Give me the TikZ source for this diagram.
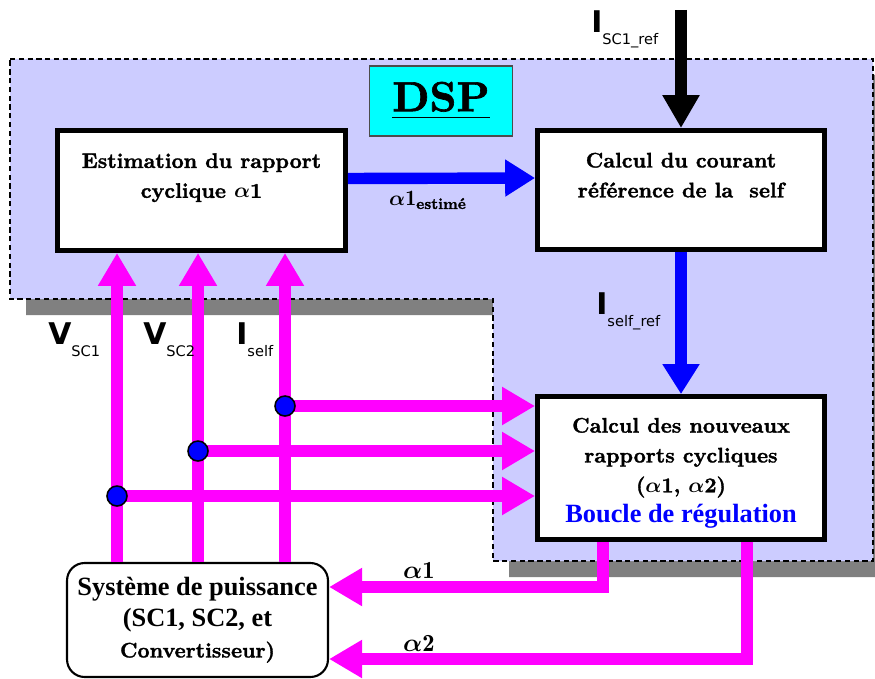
\documentclass[tikz,border=0pt]{standalone}
\usepackage{amsmath,amssymb,bm}
\usepackage{xcolor}
\usepackage{fontspec}
\usepackage{tikz}
\usetikzlibrary{arrows.meta}
\newfontfamily\timesfont{Liberation Serif}
\newfontfamily\labfont{DejaVu Sans}
\newfontfamily\boxfont{lmroman10-bold.otf}[FakeBold=1.5]
\definecolor{dsp-lav}{RGB}{204,204,255}
\definecolor{dsp-gray}{RGB}{128,128,128}
\definecolor{dsp-cyan}{RGB}{0,255,255}
\definecolor{sig-mag}{RGB}{255,0,255}
\definecolor{sig-blue}{RGB}{0,0,255}
\newcommand{\siglab}[2]{{\labfont\bfseries\fontsize{17}{17}\selectfont #1}\raisebox{-6.8pt}{\labfont\fontsize{8.3}{8.3}\selectfont #2}}

\begin{document}
\begin{tikzpicture}[x=0.02cm, y=-0.02cm,
  blk/.style={draw, line width=2.8pt, fill=white, align=center, font=\boxfont\fontsize{12}{17}\selectfont},
  magarrow/.style={sig-mag, line width=6.8pt, -{Triangle[width=20.5pt,length=18.8pt]}},
  bluarrow/.style={sig-blue, line width=6.5pt, -{Triangle[width=20pt,length=17pt]}},
  blkarrow/.style={black, line width=6.8pt, -{Triangle[width=20pt,length=18.8pt]}},
  dot/.style={circle, draw, fill=sig-blue, line width=0.9pt, minimum size=0.4cm, inner sep=0pt}]
  \useasboundingbox (0,0) rectangle (875,679);
  \clip (0,0) rectangle (875,679);

  % DSP area with its shadow
  \fill[dsp-gray] (26,75) -- (889,75) -- (889,577) -- (509,577) -- (509,315) -- (26,315) -- cycle;
  \draw[fill=dsp-lav, line width=0.9pt, dash pattern=on 3pt off 2pt]
    (10,59) -- (873,59) -- (873,561) -- (493,561) -- (493,299) -- (10,299) -- cycle;
  \node[fill=dsp-cyan, draw=gray!60!black, line width=0.8pt, minimum width=2.86cm, minimum height=1.4cm,
    font=\boxfont\fontsize{24}{24}\selectfont] (dsp) at (441,101) {\underline{DSP}};

  % blocks
  \node[blk, minimum width=5.76cm, minimum height=2.4cm] (est) at (201.5,190.5)
    {Estimation du rapport\\cyclique $\bm{\alpha}$1\\\mbox{}};
  \node[blk, minimum width=5.74cm, minimum height=2.38cm] (courant) at (681,190)
    {Calcul du courant\\référence de la~ self\\\mbox{}};
  \node[blk, minimum width=5.74cm, minimum height=2.86cm] (regul) at (681,468)
    {\rule{0pt}{14pt}Calcul des nouveaux\\rapports cycliques\\($\bm{\alpha}$1, $\bm{\alpha}$2)\\
     {\timesfont\bfseries\fontsize{15}{17}\selectfont\color{sig-blue}Boucle de régulation}};
  \node[draw, rounded corners=10pt, line width=1.2pt, fill=white, minimum width=5.22cm, minimum height=2.28cm,
    align=center, font=\timesfont\bfseries\fontsize{15}{17.6}\selectfont] (sys) at (197.5,620)
    {Système de puissance\\(SC1, SC2, et\\{\boxfont\fontsize{12}{17.6}\selectfont Convertisseur)}};

  % junctions and ends
  \coordinate (j1) at (285,406);
  \coordinate (j2) at (198,451);
  \coordinate (j3) at (117,496);
  \coordinate (t1) at (603,587);
  \coordinate (t2) at (747,659);
  \coordinate (iref) at (681,10);

  % measures
  \draw[magarrow] (sys.north -| j3) -- (est.south -| j3);
  \draw[magarrow] (sys.north -| j2) -- (est.south -| j2);
  \draw[magarrow] (sys.north -| j1) -- (est.south -| j1);
  \draw[magarrow] (j1) -- (j1 -| regul.west);
  \draw[magarrow] (j2) -- (j2 -| regul.west);
  \draw[magarrow] (j3) -- (j3 -| regul.west);
  \node[dot] (d1) at (j1) {};
  \node[dot] (d2) at (j2) {};
  \node[dot] (d3) at (j3) {};

  % duty cycles back to the converter
  \draw[magarrow] (regul.south -| t1) |- (sys.east |- t1);
  \draw[magarrow] (regul.south -| t2) |- (sys.east |- t2);

  % references
  \draw[blkarrow] (iref) -- (courant.north);
  \draw[bluarrow] ([yshift=0.24cm]est.east) -- ([yshift=0.24cm]courant.west);
  \draw[bluarrow] (courant.south) -- (regul.north);

  % labels
  \node[font=\boxfont\fontsize{12.5}{12.5}\selectfont] (la1est) at (428,200) {$\bm{\alpha}\mathbf{1}_{\text{estimé}}$};
  \node[font=\boxfont\fontsize{14}{14}\selectfont] (la1) at (419,570) {$\bm{\alpha}\mathbf{1}$};
  \node[font=\boxfont\fontsize{14}{14}\selectfont] (la2) at (419,643) {$\bm{\alpha}\mathbf{2}$};
  \node[anchor=north west, inner sep=0pt] (lvsc1) at (48,322) {\siglab{V}{SC1}};
  \node[anchor=north west, inner sep=0pt] (lvsc2) at (143,322) {\siglab{V}{SC2}};
  \node[anchor=north west, inner sep=0pt] (liself) at (236,322) {\siglab{I}{self}};
  \node[anchor=north west, inner sep=0pt] (liselfref) at (596,292) {\siglab{I}{self\_ref}};
  \node[anchor=north west, inner sep=0pt] (lisc1ref) at (591,10) {\siglab{I}{SC1\_ref}};
\end{tikzpicture}
\end{document}
